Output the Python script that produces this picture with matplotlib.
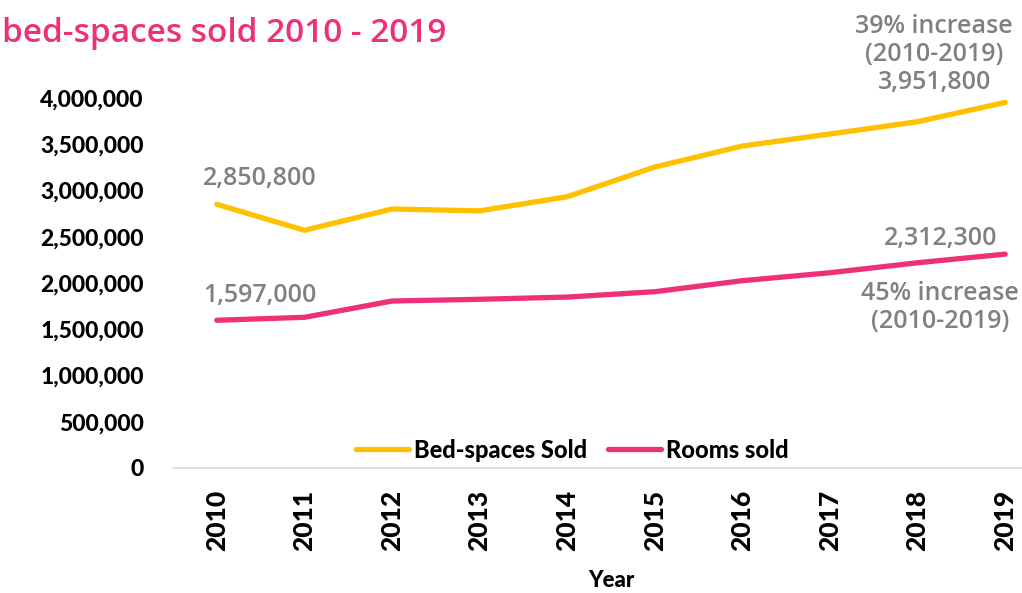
import matplotlib
matplotlib.use("Agg")
import matplotlib.pyplot as plt
from matplotlib.ticker import FuncFormatter
from matplotlib.lines import Line2D

years = ["2010", "2011", "2012", "2013", "2014", "2015", "2016", "2017", "2018", "2019"]
bed_spaces = [2850800, 2570000, 2800000, 2780000, 2933000, 3254000, 3481000, 3611000, 3744000, 3951800]
rooms_sold = [1597000, 1629000, 1805000, 1824000, 1848000, 1906000, 2025000, 2111000, 2219000, 2312300]
y_ticks = [0, 500000, 1000000, 1500000, 2000000, 2500000, 3000000, 3500000, 4000000]

YELLOW = "#FFC000"
PINK = "#EE3078"
GREY = "#808080"
TICK_FONT = "Lato"
NOTE_FONT = "Open Sans"

fig = plt.figure(figsize=(10.22, 5.93), dpi=100)
ax = fig.add_axes([173 / 1022, 125 / 593, 876 / 1022, 370 / 593])

x = list(range(len(years)))
ax.plot(x, bed_spaces, color=YELLOW, lw=3.8, solid_capstyle="round", clip_on=False)
ax.plot(x, rooms_sold, color=PINK, lw=3.8, solid_capstyle="round", clip_on=False)

ax.set_xlim(-0.5, len(years) - 0.5)
ax.set_ylim(0, 4000000)
ax.set_yticks(y_ticks)
ax.yaxis.set_major_formatter(FuncFormatter(lambda v, p: f"{int(v):,}"))
ax.set_xticks(x)
ax.set_xticklabels(years, rotation=90)

for lab in ax.get_yticklabels():
    lab.set_fontfamily(TICK_FONT)
    lab.set_fontweight("black")
    lab.set_fontsize(16.5)
for lab in ax.get_xticklabels():
    lab.set_fontfamily(TICK_FONT)
    lab.set_fontweight("black")
    lab.set_fontsize(19)

ax.tick_params(axis="y", length=0, pad=21)
ax.tick_params(axis="x", length=0, pad=16)
for side in ["top", "right", "left"]:
    ax.spines[side].set_visible(False)
ax.spines["bottom"].set_color("#D9D9D9")
ax.spines["bottom"].set_linewidth(1.2)

ax.set_xlabel("Year", fontfamily=TICK_FONT, fontweight="black", fontsize=16, labelpad=13)

# value labels
note = dict(color=GREY, fontfamily=NOTE_FONT, fontweight="semibold", fontsize=18,
            textcoords="offset pixels", ha="center", va="center")
ax.annotate(f"{bed_spaces[0]:,}", xy=(0, bed_spaces[0]), xytext=(43, 26), **note)
ax.annotate(f"{rooms_sold[0]:,}", xy=(0, rooms_sold[0]), xytext=(43, 25), **note)
ax.annotate(f"39% increase\n(2010-2019)\n{bed_spaces[-1]:,}", xy=(9, bed_spaces[-1]),
            xytext=(-71, 48), linespacing=1.15, annotation_clip=False, **note)
ax.annotate(f"{rooms_sold[-1]:,}", xy=(9, rooms_sold[-1]), xytext=(-65, 16), **note)
ax.annotate("45% increase\n(2010-2019)", xy=(9, rooms_sold[-1]), xytext=(-65, -53),
            linespacing=1.15, **note)

handles = [Line2D([], [], color=YELLOW, lw=3.8, solid_capstyle="round"),
           Line2D([], [], color=PINK, lw=3.8, solid_capstyle="round")]
fig.legend(handles, ["Bed-spaces Sold", "Rooms sold"], loc="center",
           bbox_to_anchor=(572 / 1022, 1 - 450 / 593), ncol=2, frameon=False,
           handlelength=2.25, handletextpad=0.2, columnspacing=0.9,
           prop={"family": TICK_FONT, "weight": "black", "size": 17})

fig.text(2 / 1022, 1 - 33 / 593, "bed-spaces sold 2010 - 2019", ha="left", va="center",
         color=PINK, fontfamily=NOTE_FONT, fontweight="semibold", fontsize=24)

fig.savefig("out.png", dpi=100)
